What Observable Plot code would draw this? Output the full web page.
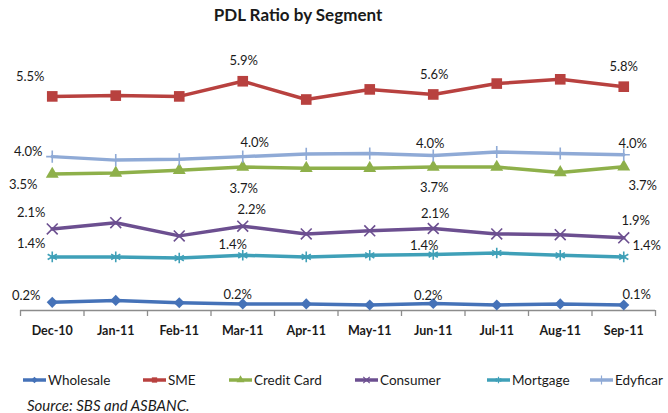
<!DOCTYPE html>
<html><head><meta charset="utf-8">
<script src="https://cdn.jsdelivr.net/npm/d3@7"></script>
<script src="https://cdn.jsdelivr.net/npm/@observablehq/plot@0.6"></script>
<style>
body{margin:0;width:668px;height:413px;position:relative;overflow:hidden;background:#fff;font-family:Lato,"Open Sans",sans-serif;color:#1a1a1a}
#title{position:absolute;left:0;top:0;width:596px;text-align:center;font-weight:bold;font-size:17px;line-height:30px}
#chart{position:absolute;left:0;top:30px}
#legend{position:absolute;left:0;top:371px;width:668px;height:18px}
.item{position:absolute;top:0;height:18px;display:flex;align-items:center;font-size:13.5px;white-space:nowrap}
.item svg{margin-right:1px}
#caption{position:absolute;left:27px;top:395px;font-size:15px;font-style:italic;line-height:20px}
</style></head><body>
<div id="title">PDL Ratio by Segment</div>
<div id="chart"></div>
<div id="legend"></div>
<div id="caption">Source: SBS and ASBANC.</div>
<script>
const months = ["Dec-10","Jan-11","Feb-11","Mar-11","Apr-11","May-11","Jun-11","Jul-11","Aug-11","Sep-11"];
const seriesNames = ["Wholesale","SME","Credit Card","Consumer","Mortgage","Edyficar"];
const wholesale  = [0.21,0.26,0.20,0.17,0.17,0.14,0.18,0.14,0.17,0.14];
const sme        = [5.51,5.53,5.51,5.90,5.43,5.69,5.56,5.84,5.95,5.76];
const creditCard = [3.51,3.54,3.61,3.69,3.66,3.66,3.69,3.69,3.55,3.70];
const consumer   = [2.10,2.26,1.92,2.17,1.97,2.05,2.11,1.97,1.95,1.87];
const mortgage   = [1.38,1.38,1.35,1.42,1.38,1.42,1.44,1.48,1.42,1.38];
const edyficar   = [3.96,3.87,3.89,3.96,4.03,4.04,3.99,4.08,4.04,4.01];
const labelledMonths = [0,3,6,9];

const values = [wholesale, sme, creditCard, consumer, mortgage, edyficar];
// styles
const colors  = ["#4572b8","#b8413f","#8eb04a","#6c4f90","#3fa0b8","#8faad6"];
const symbols = ["diamond2","square","triangle","times","asterisk","plus"];
const filled  = [true,true,true,false,false,false];
const radii   = [5,6,4.8,5,5,4];
const offsets = [
  [[-26,-7],[-5,-9],[-5,-8],[13,-10]],
  [[-22,-20],[1,-20],[1,-20],[0,-20]],
  [[-29,11],[1,22],[1,21],[19,19]],
  [[-21,-16],[9,-16],[2,-15],[12,-17]],
  [[-21,-13],[-10,-10],[-9,-9],[23,-11]],
  [[-24,-5],[12,-14],[-3,-12],[9,-11]]
];

const idx = d3.range(months.length);
const marks = [];
marks.push(Plot.ruleY([0], {stroke:"#8c8c8c", strokeWidth:1.6}));
marks.push(Plot.ruleX(d3.range(months.length+1).map(i=>i-0.5), {y1:0, y2:0, insetBottom:-6, stroke:"#8c8c8c", strokeWidth:1.3}));
values.forEach((vals, s) => {
  marks.push(Plot.line(idx, {x:d=>d, y:d=>vals[d], stroke:colors[s], strokeWidth:3.5, strokeLinejoin:"round"}));
  marks.push(Plot.dot(idx, {x:d=>d, y:d=>vals[d], symbol:symbols[s], r:radii[s],
    fill: filled[s] ? colors[s] : "none", stroke: colors[s], strokeWidth: filled[s] ? 0 : 1.6}));
  labelledMonths.forEach((m, k) => {
    marks.push(Plot.text([m], {x:d=>d, y:d=>vals[d], text:d=>vals[d].toFixed(1)+"%",
      dx:offsets[s][k][0], dy:offsets[s][k][1], fontSize:13, fill:"#1a1a1a"}));
  });
});
marks.push(Plot.axisX({ticks: idx, tickFormat: i=>months[i], tickSize:0, tickPadding:16, fontSize:12.5, fontWeight:"bold", fill:"#1a1a1a", label:null}));

const chart = Plot.plot({
  width:668, height:340,
  marginLeft:20, marginRight:13, marginTop:8, marginBottom:60,
  style:{fontFamily:"Lato, 'Open Sans', sans-serif", background:"transparent"},
  x:{type:"linear", domain:[-0.5, months.length-0.5], axis:null},
  y:{domain:[0,7], axis:null},
  marks
});
document.getElementById("chart").appendChild(chart);

// legend
const legendLeft = [23,143,229,355,487,590];
const legend = d3.select("#legend");
const symMap = {diamond2:d3.symbolDiamond2, square:d3.symbolSquare, triangle:d3.symbolTriangle, times:d3.symbolTimes, asterisk:d3.symbolAsterisk, plus:d3.symbolPlus};
seriesNames.forEach((name, s) => {
  const item = legend.append("div").attr("class","item").style("left", legendLeft[s]+"px");
  const svg = item.append("svg").attr("width",24).attr("height",12);
  svg.append("line").attr("x1",0).attr("x2",23).attr("y1",6).attr("y2",6).attr("stroke",colors[s]).attr("stroke-width",3.5);
  svg.append("path").attr("transform","translate(11.5,6)")
    .attr("d", d3.symbol(symMap[symbols[s]], Math.PI*3*3)())
    .attr("fill", filled[s] ? colors[s] : "none").attr("stroke", colors[s]).attr("stroke-width", filled[s]?0:1.2);
  item.append("span").text(name);
});
</script>
</body></html>
